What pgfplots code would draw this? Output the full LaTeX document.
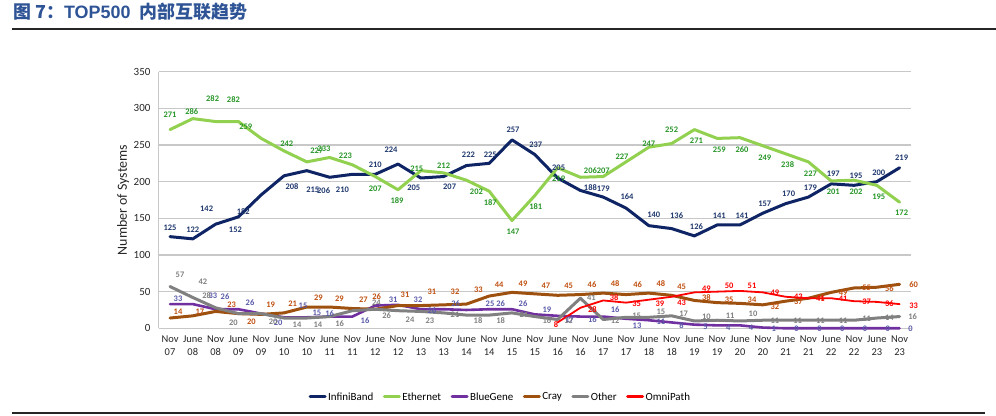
\documentclass[border=0pt]{standalone}
\usepackage{fontspec}
\setmainfont{Carlito}
\newfontfamily\cjk{Noto Sans CJK SC}
\newfontfamily\arialf{Liberation Sans}
\usepackage{pgfplots}
\pgfplotsset{compat=1.18}
\usepackage{pgfplotstable}

\definecolor{cIB}{RGB}{14,36,100}
\definecolor{cEth}{RGB}{146,208,80}
\definecolor{cBG}{RGB}{112,48,160}
\definecolor{cCray}{RGB}{158,80,14}
\definecolor{cOth}{RGB}{128,128,128}
\definecolor{cOP}{RGB}{255,0,0}
\definecolor{lIB}{RGB}{31,56,110}
\definecolor{lEth}{RGB}{40,150,40}
\definecolor{lBG}{RGB}{90,90,170}
\definecolor{lCray}{RGB}{192,80,16}
\definecolor{lOth}{RGB}{128,128,128}
\definecolor{lOP}{RGB}{255,0,0}
\definecolor{titleblue}{RGB}{47,84,150}
\definecolor{gridc}{RGB}{200,200,200}

\newcommand\labfont{\fontsize{8.5}{9}\selectfont\bfseries}

\pgfplotstableread{
x y dx dy
0 125 0 9
1 122 0 9.6
2 142 -9 15
3 152 -3 -13
4 182 -18 -17
5 208 8 -11
6 215 6 -19
7 206 -6 -13
8 210 -10 -15.6
9 210 0 9.4
10 224 -7 14
11 205 -7 -10
12 207 6 -10
13 222 2 10.6
14 225 1 9
15 257 1 10
16 237 1 9.6
17 205 1 10
18 188 10 3
19 179 0 8
20 164 1 11
21 140 5 10.7
22 136 5 12.6
23 126 2 9
24 141 2 9.3
25 141 2 9.3
26 157 2 9
27 170 3 9.7
28 179 2 9.8
29 197 2 10
30 195 2 9.3
31 200 2 9.4
32 219 2 10
}\tIB

\pgfplotstableread{
x y dx dy
0 271 0 14.6
1 286 -1 7
2 282 -3 23
3 282 -5 21.6
4 259 -15.5 11.7
5 242 2.7 7.6
6 227 10 11
7 233 -5.6 9
8 223 -7 9
9 207 0 -12
10 189 -1 -11
11 215 -4 2.4
12 212 0 7
13 202 10 -11.5
14 187 1 -11.5
15 147 1 -11
16 181 1 -11
17 219 1 -10.6
18 206 10 6.6
19 207 0 6
20 227 -4 5
21 247 0 3
22 252 0 13.6
23 271 2 -11.4
24 259 2 -11.6
25 260 2 -11.6
26 249 2 -11.5
27 238 2 -11.2
28 227 2 -11.4
29 201 2 -11.3
30 202 2 -11.5
31 195 2 -11.4
32 172 2 -11
}\tEth

\pgfplotstableread{
x y dx dy
0 33 8 5.8
1 33 20 8
2 26 9.4 12.5
3 26 11.6 7
4 20 17 -8.7
5 15 19 12
6 15 10 4.6
7 16 0 3
8 16 12.6 -4
9 31 18 5.6
10 32 20 5
11 26 11 -1
12 26 12 6
13 25 23.6 6.7
14 26 11.5 6
15 26 11 6
16 19 12 4.4
17 17 12 -3.5
18 16 12 -3
19 16 12 6.6
20 13 11 -7
21 11 12 -1.5
22 8 10 -3
23 5 11 -2
24 4 11 -2
25 4 11 -2
26 1 11 -1
27 0 11 0
28 0 11 0
29 0 11 0
30 0 11 0
31 0 11 0
32 0 11 0
}\tBG

\pgfplotstableread{
x y dx dy
0 14 8 6
1 17 7 4
2 23 16 6.4
3 20 13 -8
4 19 9.5 9.4
5 21 8.7 9.6
6 29 11.5 9.7
7 29 9.7 8.7
8 27 11 9
9 26 1.5 12.5
10 31 7 10.6
11 31 11 14
12 32 11.4 13
13 33 12 14
14 44 10 11
15 49 11 8.4
16 47 11 7.8
17 45 11 10
18 46 11.6 9.6
19 48 12 9
20 46 11.7 9.6
21 48 12 9
22 45 10 8.6
23 38 12 3
24 35 12 3.3
25 34 12 4
26 32 12 -2
27 37 12.7 -1
28 41 12 0
29 49 12 0
30 55 12.7 0
31 56 12.5 -1
32 60 14 0
}\tCray

\pgfplotstableread{
x y dx dy
0 57 10 11.5
1 42 10 16
2 28 -9 12
3 20 -5 -9
4 20 12 -8
5 14 13 -7
6 14 11 -7
7 16 10 -7
8 24 24 8
9 26 11.5 -6
10 24 12 -9
11 23 9 -9.6
12 21 11.4 -2
13 18 11.6 -6
14 18 11.5 -6
15 21 12 -2
16 16 12 -4.4
17 12 10.7 -1.5
18 41 11 0
19 12 12 -1.5
20 15 10.7 2
21 15 12 5.6
22 17 12 2.5
23 10 12 4.3
24 11 13 4
25 10 13 7.7
26 11 12 -1
27 11 12 -1
28 11 12 -1
29 11 12 -1
30 11 12.7 1
31 14 12.5 0.7
32 16 13 0
}\tOth

\pgfplotstableread{
x y dx dy
17 8 -1.6 -2.6
18 28 12 -1.5
19 38 11 2.7
20 35 10.7 -0.7
21 39 11 -3.6
22 43 10 -5.5
23 49 12 4
24 50 12 5.7
25 51 12 5
26 49 12 0
27 43 12.7 0
28 41 12 -1
29 41 12 -1
30 37 12.7 -1
31 36 12.5 -1.4
32 33 14 -1.6
}\tOP

% data-label plot: label drawn at the point shifted by (dx,dy) pixels
\newcommand\labplot[2]{%
  \addplot[draw=none, mark=none, forget plot, nodes near coords,
    point meta=explicit symbolic,
    every node near coord/.append style={anchor=center, font=\labfont, text=#2, inner sep=0pt}]
    table[x expr=\thisrow{x}+\thisrow{dx}/22.8, y expr=\thisrow{y}+\thisrow{dy}/0.73314, meta=y] {#1};}

\begin{document}
\begin{tikzpicture}
\path[use as bounding box] (0bp,0bp) rectangle (996bp,416bp);
\node[anchor=west, inner sep=0pt, text=titleblue, font=\fontsize{18}{20}\selectfont] at (13bp,404bp) {\cjk\bfseries 图 7：\arialf\bfseries TOP500\hspace{9bp}\cjk\bfseries 内部互联趋势};
\draw[line width=2bp, black!85] (12bp,386.5bp) -- (996bp,386.5bp);
\draw[line width=1.5bp, black!85] (12bp,3bp) -- (985bp,3bp);
\begin{axis}[
  at={(158.6bp,87.7bp)}, anchor=south west,
  scale only axis, width=752.4bp, height=256.6bp,
  xmin=-0.5, xmax=32.5, ymin=0, ymax=350,
  clip=false,
  axis x line=bottom, axis y line=left,
  axis line style={draw=gridc, line width=1bp, -},
  ymajorgrids, major grid style={draw=gridc, line width=1.2bp},
  ytick={0,50,...,350},
  xtick={0,...,32},
  xticklabels={{Nov\\07},{June\\08},{Nov\\08},{June\\09},{Nov\\09},{June\\10},{Nov\\10},{June\\11},{Nov\\11},{June\\12},{Nov\\12},{June\\13},{Nov\\13},{June\\14},{Nov\\14},{June\\15},{Nov\\15},{June\\16},{Nov\\16},{June\\17},{Nov\\17},{June\\18},{Nov\\18},{June\\19},{Nov\\19},{June\\20},{Nov\\20},{June\\21},{Nov\\21},{June\\22},{Nov\\22},{June\\23},{Nov\\23}},
  major tick length=0pt,
  /pgf/number format/assume math mode=true,
  xticklabel style={align=center, font=\fontsize{10.5}{13}\selectfont, text=black!85, inner sep=0pt, yshift=-7bp},
  yticklabel style={font=\fontsize{11}{13}\selectfont, text=black!85, inner sep=0pt, xshift=-8bp},
  ylabel={Number of Systems},
  ylabel style={at={(axis description cs:-0.047,0.5)}, anchor=center, font=\fontsize{14}{16}\selectfont, text=black!85},
  legend columns=6,
  legend style={at={(axis description cs:0.4538,-0.2677)}, anchor=center, draw=none, fill=none,
    font=\fontsize{11}{13}\selectfont, nodes={inner xsep=1.5bp, inner ysep=0pt},
    /tikz/every even column/.append style={column sep=8bp}},
  legend image code/.code={\draw[#1] (0bp,0bp) -- (15bp,0bp);},
  every axis plot/.append style={line join=round, line cap=round},
]
\addplot[cIB, line width=3bp, forget plot] table[x=x,y=y] {\tIB};
\addplot[cEth, line width=3bp, forget plot] table[x=x,y=y] {\tEth};
\addplot[cBG, line width=2.6bp, forget plot] table[x=x,y=y] {\tBG};
\addplot[cCray, line width=3bp, forget plot] table[x=x,y=y] {\tCray};
\addplot[cOth, line width=3bp, forget plot] table[x=x,y=y] {\tOth};
\addplot[cOP, line width=1.8bp, forget plot] table[x=x,y=y] {\tOP};
\labplot{\tIB}{lIB}
\labplot{\tEth}{lEth}
\labplot{\tBG}{lBG}
\labplot{\tCray}{lCray}
\labplot{\tOth}{lOth}
\labplot{\tOP}{lOP}
\addlegendimage{cIB, line width=3bp}
\addlegendentry{InfiniBand}
\addlegendimage{cEth, line width=3bp}
\addlegendentry{Ethernet}
\addlegendimage{cBG, line width=3bp}
\addlegendentry{BlueGene}
\addlegendimage{cCray, line width=3bp}
\addlegendentry{Cray}
\addlegendimage{cOth, line width=3bp}
\addlegendentry{Other}
\addlegendimage{cOP, line width=3bp}
\addlegendentry{OmniPath}
\end{axis}
\end{tikzpicture}
\end{document}
